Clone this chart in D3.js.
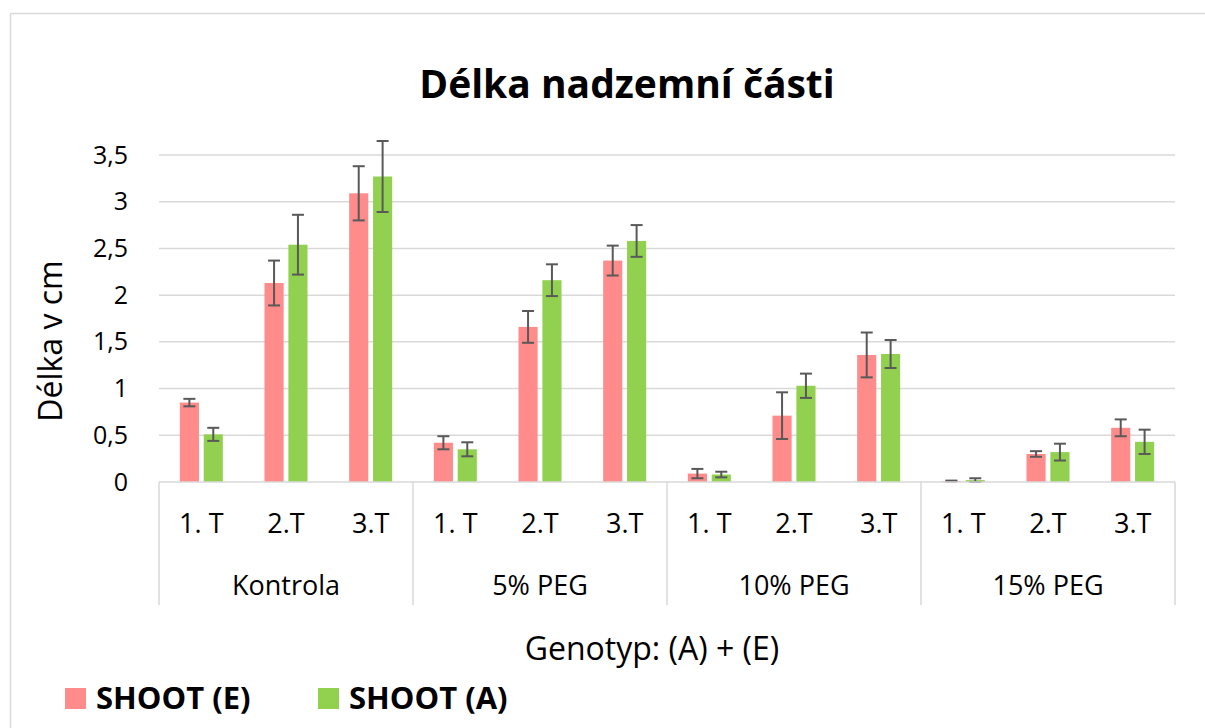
<!DOCTYPE html>
<html>
<head>
<meta charset="utf-8">
<script src="https://cdn.jsdelivr.net/npm/d3@7"></script>
<style>
  body { margin: 0; background: #fff; }
  svg { display: block; }
  text { font-family: "Open Sans", sans-serif; fill: #000; }
</style>
</head>
<body>
<div id="graf"></div>
<script>
// data
const skupiny = ["Kontrola", "5% PEG", "10% PEG", "15% PEG"];
const terminy = ["1. T", "2.T", "3.T"];
const serie = ["SHOOT (E)", "SHOOT (A)"];
const barvy = ["#ff8b8b", "#92d050"];

const shootE = [0.85, 2.13, 3.09, 0.42, 1.66, 2.37, 0.09, 0.71, 1.36, 0.01, 0.30, 0.58];
const shootEChyba = [0.04, 0.24, 0.29, 0.07, 0.17, 0.16, 0.05, 0.25, 0.24, 0.005, 0.03, 0.09];
const shootA = [0.51, 2.54, 3.27, 0.35, 2.16, 2.58, 0.08, 1.03, 1.37, 0.02, 0.32, 0.43];
const shootAChyba = [0.07, 0.32, 0.38, 0.075, 0.17, 0.17, 0.03, 0.13, 0.15, 0.02, 0.09, 0.13];

const yTicky = [0, 0.5, 1, 1.5, 2, 2.5, 3, 3.5];

const W = 1205, H = 728;
const plot = { left: 159, right: 1175, top: 155, bottom: 482 };

const svg = d3.select("#graf").append("svg")
    .attr("width", W)
    .attr("height", H);

// chart frame
svg.append("rect")
    .attr("x", 10.5).attr("y", 13.5)
    .attr("width", W + 20).attr("height", H + 20)
    .style("fill", "none")
    .style("stroke", "#d9d9d9")
    .style("stroke-width", "1.5px");

// one key per category: group + term
const kategorie = [];
skupiny.forEach(s => terminy.forEach(t => kategorie.push(s + "|" + t)));

const x0 = d3.scaleBand()
    .domain(kategorie)
    .range([plot.left, plot.right]);

const bw = x0.bandwidth();
const x1 = d3.scaleBand()
    .domain(serie)
    .range([bw / 2 - 21.5, bw / 2 + 21.5])
    .paddingInner(0.2);

const y = d3.scaleLinear()
    .domain([0, 3.5])
    .range([plot.bottom, plot.top]);

const fmt = d => d3.format("")(d).replace(".", ",");

// grid
svg.append("g")
    .selectAll("line")
    .data(yTicky.filter(d => d > 0))
    .enter().append("line")
    .attr("x1", plot.left).attr("x2", plot.right)
    .attr("y1", d => y(d)).attr("y2", d => y(d))
    .style("stroke", "#d9d9d9")
    .style("stroke-width", "1.5px");

// y axis labels
const yAxis = d3.axisLeft(y).tickValues(yTicky).tickFormat(fmt).tickSize(0).tickPadding(31);
const gy = svg.append("g")
    .attr("transform", `translate(${plot.left},0)`)
    .call(yAxis);
gy.select(".domain").remove();
gy.selectAll("text")
    .style("font-size", "25px")
    .style("fill", "#000");

// bars
const data = kategorie.map((k, i) => ({
    k,
    hodnoty: [
        { s: serie[0], v: shootE[i], e: shootEChyba[i], c: barvy[0] },
        { s: serie[1], v: shootA[i], e: shootAChyba[i], c: barvy[1] }
    ]
}));

const sloupce = svg.append("g")
    .selectAll("g")
    .data(data)
    .enter().append("g")
    .attr("transform", d => `translate(${x0(d.k)},0)`);

sloupce.selectAll("rect")
    .data(d => d.hodnoty)
    .enter().append("rect")
    .attr("x", d => x1(d.s))
    .attr("width", x1.bandwidth())
    .attr("y", d => y(d.v))
    .attr("height", d => y(0) - y(d.v))
    .style("fill", d => d.c);

// error bars
const chyby = sloupce.selectAll(".chyba")
    .data(d => d.hodnoty)
    .enter().append("g")
    .attr("class", "chyba")
    .attr("transform", d => `translate(${x1(d.s) + x1.bandwidth() / 2},0)`)
    .style("stroke", "#595959")
    .style("stroke-width", "2px");

chyby.append("line")
    .attr("y1", d => y(d.v + d.e)).attr("y2", d => y(Math.max(0, d.v - d.e)));
chyby.append("line")
    .attr("x1", -6).attr("x2", 6)
    .attr("y1", d => y(d.v + d.e)).attr("y2", d => y(d.v + d.e));
chyby.append("line")
    .attr("x1", -6).attr("x2", 6)
    .attr("y1", d => y(Math.max(0, d.v - d.e))).attr("y2", d => y(Math.max(0, d.v - d.e)));

// x axis line and group separators
svg.append("line")
    .attr("x1", plot.left).attr("x2", plot.right)
    .attr("y1", plot.bottom).attr("y2", plot.bottom)
    .style("stroke", "#d9d9d9")
    .style("stroke-width", "1.5px");

const hranice = skupiny.map(s => x0(s + "|" + terminy[0])).concat([plot.right]);
svg.append("g")
    .selectAll("line")
    .data(hranice)
    .enter().append("line")
    .attr("x1", d => d).attr("x2", d => d)
    .attr("y1", plot.bottom).attr("y2", 605)
    .style("stroke", "#d9d9d9")
    .style("stroke-width", "1.5px");

// term labels
svg.append("g")
    .selectAll("text")
    .data(kategorie)
    .enter().append("text")
    .attr("x", d => x0(d) + bw / 2)
    .attr("y", 533)
    .attr("text-anchor", "middle")
    .style("font-size", "27px")
    .text(d => d.split("|")[1]);

// group labels
svg.append("g")
    .selectAll("text")
    .data(skupiny)
    .enter().append("text")
    .attr("x", d => x0(d + "|" + terminy[1]) + bw / 2)
    .attr("y", 595)
    .attr("text-anchor", "middle")
    .style("font-size", "27px")
    .text(d => d);

// titles
svg.append("text")
    .attr("x", 627).attr("y", 98)
    .attr("text-anchor", "middle")
    .style("font-size", "39px")
    .style("font-weight", "bold")
    .text("Délka nadzemní části");

svg.append("text")
    .attr("transform", "translate(62,341) rotate(-90)")
    .attr("text-anchor", "middle")
    .style("font-size", "32px")
    .text("Délka v cm");

svg.append("text")
    .attr("x", 652).attr("y", 660)
    .attr("text-anchor", "middle")
    .style("font-size", "32px")
    .text("Genotyp: (A) + (E)");

// legend
const legenda = svg.append("g")
    .selectAll("g")
    .data(serie)
    .enter().append("g")
    .attr("transform", (d, i) => `translate(${65 + i * 253},688)`);

legenda.append("rect")
    .attr("width", 21).attr("height", 21)
    .style("fill", (d, i) => barvy[i]);

legenda.append("text")
    .attr("x", 31).attr("y", 21)
    .style("font-size", "31px")
    .style("font-weight", "bold")
    .text(d => d);
</script>
</body>
</html>
